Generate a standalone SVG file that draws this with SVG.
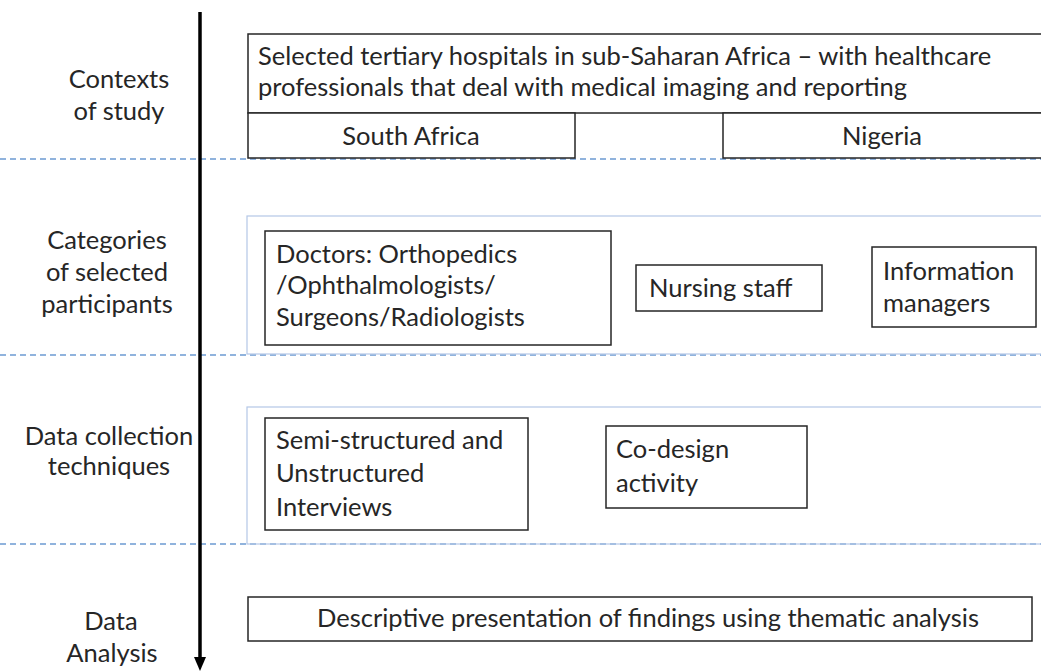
<svg xmlns="http://www.w3.org/2000/svg" width="1041" height="671" viewBox="0 0 1041 671">
<style>
  text { font-family: Lato, "Open Sans", "Liberation Sans", sans-serif; font-size: 25.5px; fill: #262626; }
  .lbl { text-anchor: middle; }
  .box { fill: #ffffff; stroke: #262626; stroke-width: 1.5; }
  .frame { fill: none; stroke: #b4c7e7; stroke-width: 1.2; }
  .dash { stroke: #6c9bd2; stroke-width: 1.5; stroke-dasharray: 6 4; fill: none; }
</style>
<rect width="1041" height="671" fill="#ffffff"/>

<g id="separators">
  <line class="dash" x1="0" y1="159" x2="1041" y2="159"/>
  <line class="dash" x1="0" y1="355" x2="1041" y2="355"/>
  <line class="dash" x1="0" y1="544" x2="1041" y2="544"/>
</g>

<g id="row-labels">
  <text class="lbl" x="119" y="88">Contexts</text>
  <text class="lbl" x="119" y="120">of study</text>
  <text class="lbl" x="107" y="249">Categories</text>
  <text class="lbl" x="107" y="281">of selected</text>
  <text class="lbl" x="107" y="313">participants</text>
  <text class="lbl" x="109" y="445">Data collection</text>
  <text class="lbl" x="109" y="475">techniques</text>
  <text class="lbl" x="111" y="630">Data</text>
  <text class="lbl" x="112" y="662">Analysis</text>
</g>

<g id="context">
  <rect class="box" x="248" y="34" width="800" height="79"/>
  <text x="258" y="65">Selected tertiary hospitals in sub-Saharan Africa – with healthcare</text>
  <text x="258" y="96">professionals that deal with medical imaging and reporting</text>
</g>
<g id="south-africa">
  <rect class="box" x="248" y="113" width="327" height="45"/>
  <text class="lbl" x="411" y="145">South Africa</text>
</g>
<g id="nigeria">
  <rect class="box" x="723" y="113" width="325" height="45"/>
  <text class="lbl" x="882" y="145">Nigeria</text>
</g>

<g id="participants-frame">
  <rect class="frame" x="247" y="216" width="810" height="138"/>
</g>
<g id="doctors">
  <rect class="box" x="265" y="231" width="346" height="114"/>
  <text x="276" y="263">Doctors: Orthopedics</text>
  <text x="276" y="294">/Ophthalmologists/</text>
  <text x="276" y="326">Surgeons/Radiologists</text>
</g>
<g id="nursing">
  <rect class="box" x="636" y="265" width="186" height="46"/>
  <text x="649" y="297">Nursing staff</text>
</g>
<g id="info-managers">
  <rect class="box" x="872" y="247" width="164" height="80"/>
  <text x="883" y="280">Information</text>
  <text x="883" y="312">managers</text>
</g>

<g id="techniques-frame">
  <rect class="frame" x="247" y="407" width="810" height="137"/>
</g>
<g id="interviews">
  <rect class="box" x="265" y="418" width="263" height="112"/>
  <text x="276" y="449">Semi-structured and</text>
  <text x="276" y="482">Unstructured</text>
  <text x="276" y="516">Interviews</text>
</g>
<g id="codesign">
  <rect class="box" x="606" y="426" width="201" height="82"/>
  <text x="616" y="458">Co-design</text>
  <text x="616" y="492">activity</text>
</g>

<g id="analysis">
  <rect class="box" x="248" y="597" width="784" height="44"/>
  <text class="lbl" x="648" y="627">Descriptive presentation of findings using thematic analysis</text>
</g>

<g id="connectors">
  <line x1="200" y1="12" x2="200" y2="659" stroke="#000" stroke-width="3.5"/>
  <path d="M194,657 L206,657 L200,671 Z" fill="#000"/>
</g>
</svg>
